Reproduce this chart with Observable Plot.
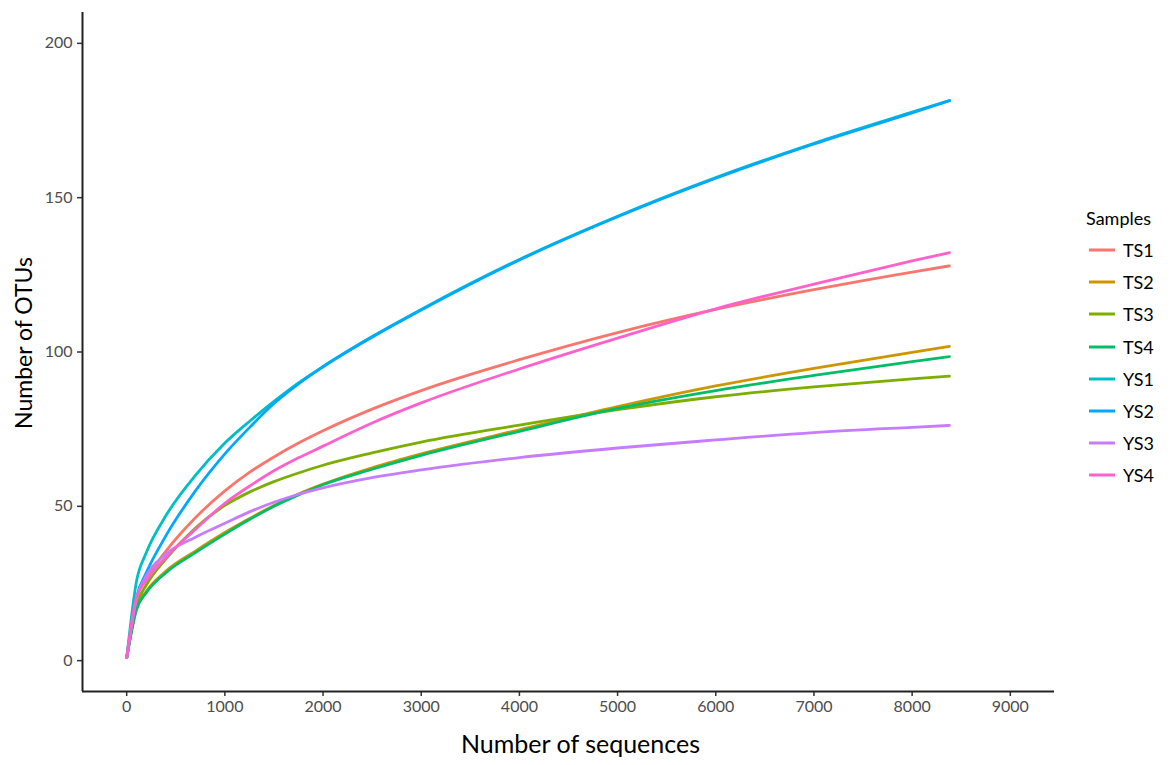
<!DOCTYPE html>
<html><head><meta charset="utf-8">
<script src="https://cdn.jsdelivr.net/npm/d3@7"></script>
<script src="https://cdn.jsdelivr.net/npm/@observablehq/plot@0.6"></script>
<style>
body{margin:0;background:#fff;}
#wrap{position:relative;width:1171px;height:765px;font-family:Lato,sans-serif;}
#legend{position:absolute;left:0;top:0;}
.lt{position:absolute;font-size:18px;color:#000;line-height:1;white-space:nowrap;transform:translateY(-50%);}
.ls{position:absolute;width:26px;height:3px;transform:translateY(-50%);}
</style></head><body><div id="wrap"><div id="legend"></div></div>
<script>
const samples = ["TS1","TS2","TS3","TS4","YS1","YS2","YS3","YS4"];
const colors  = ["#F8766D","#CD9600","#7CAE00","#00BE67","#00BFC4","#00A9FF","#C77CFF","#FF61CC"];
const depths  = [1, 100, 200, 400, 700, 1000, 1250, 1500, 1750, 2000, 2500, 3000, 4000, 5000, 6000, 7000, 8000, 8380];
const TS1 = [1, 20, 26.5, 35.5, 46.3, 55, 61, 66, 70.5, 74.5, 81.5, 87.5, 97.5, 106.3, 113.8, 120.2, 125.9, 127.9];
const TS2 = [1, 17, 22.5, 29, 35.5, 41.5, 46, 50.3, 54, 57.2, 62.5, 67, 74.8, 82.3, 89, 94.7, 99.9, 101.8];
const TS3 = [1, 18, 24.5, 33, 43, 50.3, 54.6, 58, 60.8, 63.3, 67.3, 70.8, 76.3, 81.3, 85.5, 88.7, 91.3, 92.2];
const TS4 = [1, 16.5, 22, 28.5, 35, 41, 45.7, 50, 53.7, 57, 62, 66.5, 74.3, 81.7, 87.5, 92.4, 96.9, 98.5];
const YS1 = [1, 25.7, 35, 47, 60, 70.5, 77.5, 84, 90, 95.3, 105, 113.8, 130, 144, 156.5, 167.6, 177.7, 181.5];
const YS2 = [1, 20.5, 28.5, 40.5, 55, 67, 75.5, 83.3, 89.7, 95.2, 104.8, 113.6, 129.8, 143.8, 156.3, 167.4, 177.5, 181.4];
const YS3 = [1, 20, 27.5, 34.5, 40, 44.5, 48.2, 51.3, 53.9, 56, 59.3, 61.8, 65.8, 68.9, 71.5, 73.9, 75.6, 76.2];
const YS4 = [1, 20.5, 26, 33.5, 42.5, 51, 56.5, 61.5, 65.7, 69.5, 77, 83.5, 94.5, 104.5, 114, 122, 129.5, 132.2];
const xTicks = [0,1000,2000,3000,4000,5000,6000,7000,8000,9000];
const yTicks = [0,50,100,150,200];
const xLabel = "Number of sequences";
const yLabel = "Number of OTUs";
const legendTitle = "Samples";

const series = [TS1,TS2,TS3,TS4,YS1,YS2,YS3,YS4];
const rows = [];
series.forEach((vals,i)=>vals.forEach((v,j)=>rows.push({sample:samples[i], depth:depths[j], otus:v})));

const fmt = d3.format("d");
const chart = Plot.plot({
  width:1171, height:765,
  marginLeft:82, marginRight:117, marginTop:12, marginBottom:74,
  style:{fontFamily:"Lato, sans-serif", background:"#fff", overflow:"visible"},
  x:{domain:[-450,9450]},
  y:{domain:[-10,210]},
  color:{domain:samples, range:colors},
  marks:[
    Plot.axisX(xTicks,{tickSize:5, tickPadding:4, fontSize:16, fill:"#4d4d4d", stroke:"#333", strokeWidth:1.5, tickFormat:fmt, label:null}),
    Plot.axisY(yTicks,{tickSize:5, tickPadding:5, fontSize:16, fill:"#4d4d4d", stroke:"#333", strokeWidth:1.5, tickFormat:fmt, label:null}),
    Plot.ruleX([-450],{stroke:"#222", strokeWidth:2}),
    Plot.ruleY([-10],{stroke:"#222", strokeWidth:2}),
    Plot.line(rows,{x:"depth", y:"otus", stroke:"sample", z:"sample", strokeWidth:2.8, curve:"monotone-x"}),
    Plot.text([xLabel],{frameAnchor:"bottom", dx:12, dy:61, fontSize:25, fill:"#000"}),
    Plot.text([yLabel],{frameAnchor:"left", textAnchor:"middle", dx:-58, dy:-9, rotate:-90, fontSize:23, fill:"#000"})
  ]
});
const wrap = document.getElementById("wrap");
wrap.insertBefore(chart, wrap.firstChild);
chart.style.position="absolute"; chart.style.left="0"; chart.style.top="0";

const lg = document.getElementById("legend");
const t = document.createElement("div");
t.className="lt"; t.textContent=legendTitle; t.style.left="1086px"; t.style.top="218px";
lg.appendChild(t);
samples.forEach((s,i)=>{
  const cy = 250 + i*32.2;
  const sw = document.createElement("div");
  sw.className="ls"; sw.style.left="1089px"; sw.style.top=cy+"px"; sw.style.background=colors[i];
  lg.appendChild(sw);
  const lb = document.createElement("div");
  lb.className="lt"; lb.textContent=s; lb.style.left="1123px"; lb.style.top=cy+"px";
  lg.appendChild(lb);
});
</script></body></html>
